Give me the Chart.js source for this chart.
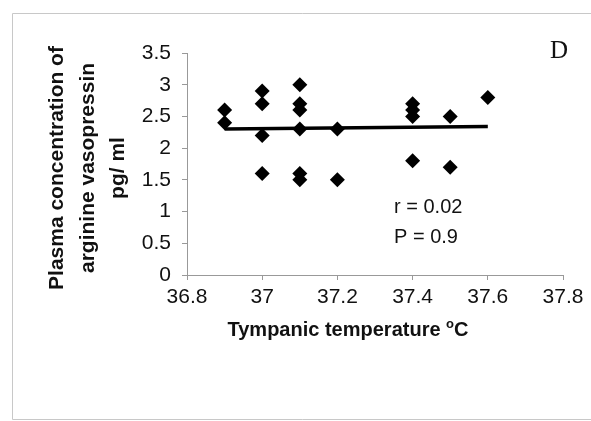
<!DOCTYPE html>
<html>
<head>
<meta charset="utf-8">
<script src="https://cdn.jsdelivr.net/npm/chart.js@4"></script>
<style>
  html, body { margin: 0; padding: 0; background: #fff; }
  #wrap { width: 591px; height: 421px; position: relative; }
</style>
</head>
<body>
<div id="wrap"><canvas id="c" width="591" height="421"></canvas></div>
<script>
// Data
const temperatures = [36.9, 36.9, 37.0, 37.0, 37.0, 37.0, 37.1, 37.1, 37.1, 37.1, 37.1, 37.1, 37.2, 37.2, 37.4, 37.4, 37.4, 37.4, 37.5, 37.5, 37.6];
const avpValues    = [2.6, 2.4, 2.9, 2.7, 2.2, 1.6, 3.0, 2.7, 2.6, 2.3, 1.6, 1.5, 2.3, 1.5, 2.7, 2.6, 2.5, 1.8, 2.5, 1.7, 2.8];
const trendX = [36.9, 37.6];
const trendY = [2.30, 2.34];
const xTicks = [36.8, 37.0, 37.2, 37.4, 37.6, 37.8];
const yTicks = [0, 0.5, 1, 1.5, 2, 2.5, 3, 3.5];
const yTitleLines = ['Plasma concentration of', 'arginine vasopressin', 'pg/ ml'];
const xTitle = 'Tympanic temperature ';
const panelLabel = 'D';
const statLines = ['r = 0.02', 'P = 0.9'];

const scatterPts = temperatures.map((t, i) => ({ x: t, y: avpValues[i] }));
const trendPts = trendX.map((t, i) => ({ x: t, y: trendY[i] }));

const FONT = "'Liberation Sans', Arial, sans-serif";

const decor = {
  id: 'decor',
  beforeDraw(chart) {
    const ctx = chart.ctx;
    ctx.save();
    ctx.fillStyle = '#fff';
    ctx.fillRect(0, 0, chart.width, chart.height);
    ctx.strokeStyle = '#c8c8c8';
    ctx.lineWidth = 1;
    ctx.beginPath();
    ctx.moveTo(600, 13.5);
    ctx.lineTo(12.5, 13.5);
    ctx.lineTo(12.5, 419.5);
    ctx.lineTo(600, 419.5);
    ctx.stroke();
    ctx.restore();
  },
  afterDraw(chart) {
    const ctx = chart.ctx;
    const a = chart.chartArea;
    ctx.save();
    ctx.fillStyle = '#111';
    // y title
    ctx.font = 'bold 21px ' + FONT;
    ctx.textAlign = 'center';
    ctx.textBaseline = 'middle';
    const cy = 168;
    const xs = [57, 88, 118];
    yTitleLines.forEach((line, i) => {
      ctx.save();
      ctx.translate(xs[i], cy);
      ctx.rotate(-Math.PI / 2);
      ctx.fillText(line, 0, 0);
      ctx.restore();
    });
    // x title with superscript o
    ctx.textAlign = 'left';
    ctx.textBaseline = 'alphabetic';
    ctx.font = 'bold 20px ' + FONT;
    const w1 = ctx.measureText(xTitle).width;
    ctx.font = 'bold 13px ' + FONT;
    const w2 = ctx.measureText('o').width;
    ctx.font = 'bold 20px ' + FONT;
    const w3 = ctx.measureText('C').width;
    const total = w1 + w2 + w3;
    let x0 = 348 - total / 2;
    const base = 336;
    ctx.fillText(xTitle, x0, base);
    ctx.font = 'bold 13px ' + FONT;
    ctx.fillText('o', x0 + w1, base - 8);
    ctx.font = 'bold 20px ' + FONT;
    ctx.fillText('C', x0 + w1 + w2, base);
    // panel label
    ctx.font = "25px 'Liberation Serif', 'Times New Roman', serif";
    ctx.textAlign = 'center';
    ctx.fillText(panelLabel, 559, 58);
    // stats
    ctx.font = '20px ' + FONT;
    ctx.textAlign = 'left';
    ctx.fillText(statLines[0], 394, 213);
    ctx.fillText(statLines[1], 394, 243);
    ctx.restore();
  }
};

const fmt = v => String(Number(Number(v).toFixed(1)));

new Chart(document.getElementById('c'), {
  type: 'scatter',
  data: {
    datasets: [
      {
        type: 'line',
        data: trendPts,
        borderColor: '#000',
        borderWidth: 3.5,
        pointRadius: 0,
        fill: false,
        order: 1
      },
      {
        data: scatterPts,
        pointStyle: 'rectRot',
        pointRadius: 7.5,
        pointHoverRadius: 7.5,
        backgroundColor: '#000',
        borderColor: '#000',
        borderWidth: 0,
        order: 0
      }
    ]
  },
  options: {
    responsive: false,
    animation: false,
    events: [],
    layout: { padding: { left: 0, top: 53, right: 28, bottom: 0 } },
    plugins: { legend: { display: false }, tooltip: { enabled: false } },
    scales: {
      x: {
        type: 'linear',
        min: 36.8,
        max: 37.8,
        afterBuildTicks: s => { s.ticks = xTicks.map(v => ({ value: v })); },
        afterFit: s => { s.height = 146; },
        ticks: { color: '#111', font: { family: FONT, size: 21 }, padding: 5, callback: fmt, maxRotation: 0 },
        grid: { display: true, drawOnChartArea: false, tickLength: 5, color: '#999' },
        border: { display: true, color: '#999', width: 1 }
      },
      y: {
        type: 'linear',
        min: 0,
        max: 3.5,
        afterBuildTicks: s => { s.ticks = yTicks.map(v => ({ value: v })); },
        afterFit: s => { s.width = 187; },
        ticks: { color: '#111', font: { family: FONT, size: 21 }, padding: 11, callback: fmt },
        grid: { display: true, drawOnChartArea: false, tickLength: 5, color: '#999' },
        border: { display: true, color: '#999', width: 1 }
      }
    }
  },
  plugins: [decor]
});
</script>
</body>
</html>
